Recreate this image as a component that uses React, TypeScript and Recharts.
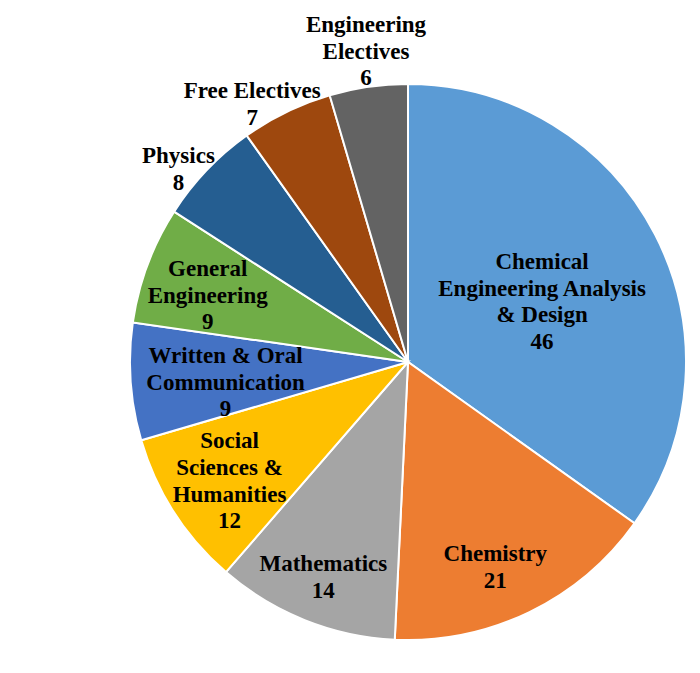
import { PieChart, Pie, Cell } from 'recharts';

const categories = [
  'Chemical\nEngineering Analysis\n& Design',
  'Chemistry',
  'Mathematics',
  'Social\nSciences &\nHumanities',
  'Written & Oral\nCommunication',
  'General\nEngineering',
  'Physics',
  'Free Electives',
  'Engineering\nElectives',
];
const credits = [46, 21, 14, 12, 9, 9, 8, 7, 6];
const colors = ['#5B9BD5', '#ED7D31', '#A5A5A5', '#FFC000', '#4472C4', '#70AD47', '#255E91', '#9E480E', '#636363'];

// label placement: fraction of radius and angle nudge (degrees, clockwise) from slice middle
const labelRadius = [0.53, 0.8, 0.83, 0.77, 0.66, 0.76, 1.08, 1.085, 1.13];
const labelShift = [2.8, 2.8, -0.3, -0.8, -2.1, -1.9, -3.5, -5.2, 0.5];

const data = categories.map((name, i) => ({ name, value: credits[i] }));

const RAD = Math.PI / 180;
const LINE = 26.7;

const renderLabel = (props: any) => {
  const { cx, cy, midAngle, outerRadius, index, value } = props;
  const angle = midAngle - labelShift[index];
  const r = outerRadius * labelRadius[index];
  const x = cx + r * Math.cos(-angle * RAD);
  const y = cy + r * Math.sin(-angle * RAD);
  const lines = [...categories[index].split('\n'), String(value)];
  const top = y - ((lines.length - 1) * LINE) / 2;
  return (
    <text
      x={x}
      y={top}
      textAnchor="middle"
      dominantBaseline="central"
      fill="#000"
      style={{ fontFamily: '"Liberation Serif", serif', fontWeight: 700, fontSize: 23 }}
    >
      {lines.map((l, i) => (
        <tspan key={i} x={x} y={top + i * LINE}>
          {l}
        </tspan>
      ))}
    </text>
  );
};

export default function App() {
  return (
    <div style={{ position: 'absolute', left: 0, top: 0, width: 700, height: 673, background: '#fff' }}>
      <PieChart width={700} height={673} margin={{ top: 0, right: 0, bottom: 0, left: 0 }}>
        <Pie
          data={data}
          dataKey="value"
          cx={408}
          cy={362}
          outerRadius={278}
          startAngle={90}
          endAngle={-270}
          stroke="#fff"
          strokeWidth={2}
          label={renderLabel}
          labelLine={false}
          isAnimationActive={false}
        >
          {data.map((d, i) => (
            <Cell key={d.name} fill={colors[i]} />
          ))}
        </Pie>
      </PieChart>
    </div>
  );
}
